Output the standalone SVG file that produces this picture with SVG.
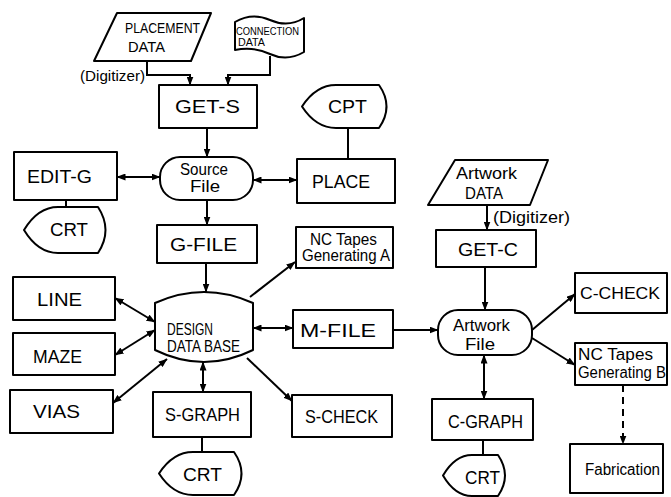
<svg xmlns="http://www.w3.org/2000/svg" width="671" height="497" viewBox="0 0 671 497">
<style>
.s{fill:#fff;stroke:#000;stroke-width:2;stroke-linejoin:round}
.c{fill:none;stroke:#000;stroke-width:2}
.d{stroke-dasharray:7,5}
text{font-family:"Liberation Sans",Arial,sans-serif;fill:#000}
.b{font-size:18px}
.m{font-size:16px}
</style>
<defs>
<marker id="a" markerUnits="userSpaceOnUse" markerWidth="9" markerHeight="7" refX="8.5" refY="3.5" orient="auto-start-reverse"><path d="M0,0 L9,3.5 L0,7 Z" fill="#000"/></marker>
</defs>
<rect width="671" height="497" fill="#fff"/>
<g id="connectors">
<polyline class="c" points="147,61 147,75 190,75 190,85" marker-end="url(#a)"/>
<polyline class="c" points="270,56 270,75 228,75 228,85" marker-end="url(#a)"/>
<line class="c" x1="207" y1="128" x2="207" y2="157" marker-end="url(#a)"/>
<line class="c" x1="348" y1="127" x2="348" y2="159"/>
<line class="c" x1="117" y1="177" x2="160" y2="177" marker-start="url(#a)" marker-end="url(#a)"/>
<line class="c" x1="253" y1="180" x2="297" y2="180" marker-start="url(#a)" marker-end="url(#a)"/>
<line class="c" x1="66" y1="200" x2="66" y2="207"/>
<line class="c" x1="207" y1="200" x2="207" y2="225" marker-end="url(#a)"/>
<line class="c" x1="206" y1="263" x2="206" y2="292" marker-end="url(#a)"/>
<line class="c" x1="250" y1="297" x2="295" y2="262" marker-end="url(#a)"/>
<line class="c" x1="115" y1="298" x2="155" y2="322" marker-start="url(#a)" marker-end="url(#a)"/>
<line class="c" x1="115" y1="355" x2="155" y2="330" marker-start="url(#a)" marker-end="url(#a)"/>
<line class="c" x1="113" y1="403" x2="167" y2="359" marker-start="url(#a)" marker-end="url(#a)"/>
<line class="c" x1="203" y1="362" x2="203" y2="392" marker-start="url(#a)" marker-end="url(#a)"/>
<line class="c" x1="202" y1="437" x2="202" y2="452"/>
<line class="c" x1="247" y1="358" x2="292" y2="401" marker-end="url(#a)"/>
<line class="c" x1="253" y1="328" x2="293" y2="328" marker-start="url(#a)" marker-end="url(#a)"/>
<line class="c" x1="393" y1="330" x2="438" y2="330" marker-end="url(#a)"/>
<line class="c" x1="487" y1="205" x2="487" y2="230" marker-end="url(#a)"/>
<line class="c" x1="485" y1="267" x2="485" y2="310" marker-end="url(#a)"/>
<line class="c" x1="532" y1="330" x2="575" y2="294" marker-end="url(#a)"/>
<line class="c" x1="532" y1="338" x2="575" y2="365" marker-end="url(#a)"/>
<line class="c" x1="484" y1="355" x2="484" y2="399" marker-start="url(#a)" marker-end="url(#a)"/>
<line class="c" x1="483" y1="440" x2="483" y2="455"/>
<line class="c d" x1="623" y1="385" x2="623" y2="444" marker-end="url(#a)"/>
</g>
<g id="placement-data">
<polygon class="s" points="117,13 211,13 191,61 94,61"/>
<text x="125" y="33" font-size="15" textLength="75" lengthAdjust="spacingAndGlyphs">PLACEMENT</text>
<text x="128" y="52" font-size="15" textLength="37" lengthAdjust="spacingAndGlyphs">DATA</text>
</g>
<g id="connection-data">
<path class="s" d="M235,22 Q252,12 270,20 T304,18 L304,52 Q287,62 270,54 T235,50 Z"/>
<text x="236" y="35" font-size="10" textLength="63" lengthAdjust="spacingAndGlyphs">CONNECTION</text>
<text x="238" y="46" font-size="10" textLength="27" lengthAdjust="spacingAndGlyphs">DATA</text>
</g>
<g id="digitizer-label-1">
<text x="80" y="81" font-size="15" textLength="65" lengthAdjust="spacingAndGlyphs">(Digitizer)</text>
</g>
<g id="get-s">
<rect class="s" x="159" y="85" width="98" height="43"/>
<text class="b" x="175" y="113" textLength="65" lengthAdjust="spacingAndGlyphs">GET-S</text>
</g>
<g id="cpt">
<path class="s" d="M302,106.5 Q316,85 336,85 L379,85 Q394,106.5 379,128 L336,128 Q316,128 302,106.5 Z"/>
<text class="b" x="328" y="113" textLength="39" lengthAdjust="spacingAndGlyphs">CPT</text>
</g>
<g id="edit-g">
<rect class="s" x="14" y="152" width="103" height="48"/>
<text class="b" x="27" y="183" textLength="65" lengthAdjust="spacingAndGlyphs">EDIT-G</text>
</g>
<g id="source-file">
<rect class="s" x="160" y="157" width="93" height="43" rx="20" ry="20"/>
<text class="m" x="180" y="175" textLength="48" lengthAdjust="spacingAndGlyphs">Source</text>
<text class="m" x="190" y="192" textLength="30" lengthAdjust="spacingAndGlyphs">File</text>
</g>
<g id="place">
<rect class="s" x="297" y="159" width="98" height="44"/>
<text class="b" x="312" y="188" textLength="58" lengthAdjust="spacingAndGlyphs">PLACE</text>
</g>
<g id="crt-1">
<path class="s" d="M24,230 Q38,207 58,207 L98,207 Q113,230 98,253 L58,253 Q38,253 24,230 Z"/>
<text class="b" x="50" y="236" textLength="38" lengthAdjust="spacingAndGlyphs">CRT</text>
</g>
<g id="g-file">
<rect class="s" x="157" y="225" width="100" height="38"/>
<text class="b" x="170" y="251" textLength="67" lengthAdjust="spacingAndGlyphs">G-FILE</text>
</g>
<g id="nc-tapes-a">
<rect class="s" x="296" y="227" width="97" height="41"/>
<text class="m" x="310" y="245" textLength="67" lengthAdjust="spacingAndGlyphs">NC Tapes</text>
<text class="m" x="302" y="261" textLength="88" lengthAdjust="spacingAndGlyphs">Generating A</text>
</g>
<g id="line">
<rect class="s" x="13" y="277" width="102" height="43"/>
<text class="b" x="37" y="306" textLength="45" lengthAdjust="spacingAndGlyphs">LINE</text>
</g>
<g id="maze">
<rect class="s" x="13" y="333" width="102" height="42"/>
<text class="b" x="33" y="363" textLength="49" lengthAdjust="spacingAndGlyphs">MAZE</text>
</g>
<g id="vias">
<rect class="s" x="10" y="390" width="103" height="43"/>
<text class="b" x="33" y="418" textLength="47" lengthAdjust="spacingAndGlyphs">VIAS</text>
</g>
<g id="design-data-base">
<path class="s" d="M155,303 Q204,281 253,303 L253,350 Q204,374 155,350 Z"/>
<text class="m" x="167" y="335" textLength="46" lengthAdjust="spacingAndGlyphs">DESIGN</text>
<text class="m" x="167" y="352" textLength="73" lengthAdjust="spacingAndGlyphs">DATA BASE</text>
</g>
<g id="m-file">
<rect class="s" x="293" y="310" width="100" height="38"/>
<text class="b" x="300" y="337" textLength="76" lengthAdjust="spacingAndGlyphs">M-FILE</text>
</g>
<g id="s-graph">
<rect class="s" x="153" y="392" width="98" height="45"/>
<text class="b" x="165" y="421" textLength="75" lengthAdjust="spacingAndGlyphs">S-GRAPH</text>
</g>
<g id="crt-2">
<path class="s" d="M159,473.5 Q173,452 193,452 L234,452 Q249,473.5 234,495 L193,495 Q173,495 159,473.5 Z"/>
<text class="b" x="183" y="481" textLength="39" lengthAdjust="spacingAndGlyphs">CRT</text>
</g>
<g id="s-check">
<rect class="s" x="292" y="395" width="100" height="42"/>
<text class="b" x="305" y="423" textLength="73" lengthAdjust="spacingAndGlyphs">S-CHECK</text>
</g>
<g id="artwork-data">
<polygon class="s" points="455,160 548,160 530,205 428,205"/>
<text class="m" x="456" y="179" textLength="61" lengthAdjust="spacingAndGlyphs">Artwork</text>
<text class="m" x="465" y="199" textLength="38" lengthAdjust="spacingAndGlyphs">DATA</text>
</g>
<g id="digitizer-label-2">
<text x="493" y="223" font-size="16" textLength="77" lengthAdjust="spacingAndGlyphs">(Digitizer)</text>
</g>
<g id="get-c">
<rect class="s" x="436" y="230" width="100" height="37"/>
<text class="b" x="458" y="256" textLength="60" lengthAdjust="spacingAndGlyphs">GET-C</text>
</g>
<g id="artwork-file">
<rect class="s" x="438" y="310" width="94" height="45" rx="20" ry="20"/>
<text class="m" x="453" y="331" textLength="57" lengthAdjust="spacingAndGlyphs">Artwork</text>
<text class="m" x="465" y="350" textLength="30" lengthAdjust="spacingAndGlyphs">File</text>
</g>
<g id="c-check">
<rect class="s" x="575" y="273" width="92" height="40"/>
<text class="m" x="580" y="299" textLength="80" lengthAdjust="spacingAndGlyphs">C-CHECK</text>
</g>
<g id="nc-tapes-b">
<rect class="s" x="575" y="343" width="92" height="42"/>
<text class="m" x="578" y="360" textLength="75" lengthAdjust="spacingAndGlyphs">NC Tapes</text>
<text class="m" x="578" y="378" textLength="88" lengthAdjust="spacingAndGlyphs">Generating B</text>
</g>
<g id="c-graph">
<rect class="s" x="432" y="399" width="101" height="41"/>
<text class="b" x="448" y="428" textLength="75" lengthAdjust="spacingAndGlyphs">C-GRAPH</text>
</g>
<g id="crt-3">
<path class="s" d="M443,475.5 Q455,455 472,455 L498,455 Q512,475.5 498,496 L472,496 Q455,496 443,475.5 Z"/>
<text class="b" x="465" y="484" textLength="35" lengthAdjust="spacingAndGlyphs">CRT</text>
</g>
<g id="fabrication">
<rect class="s" x="570" y="444" width="93" height="49"/>
<text class="m" x="585" y="475" textLength="75" lengthAdjust="spacingAndGlyphs">Fabrication</text>
</g>
</svg>
